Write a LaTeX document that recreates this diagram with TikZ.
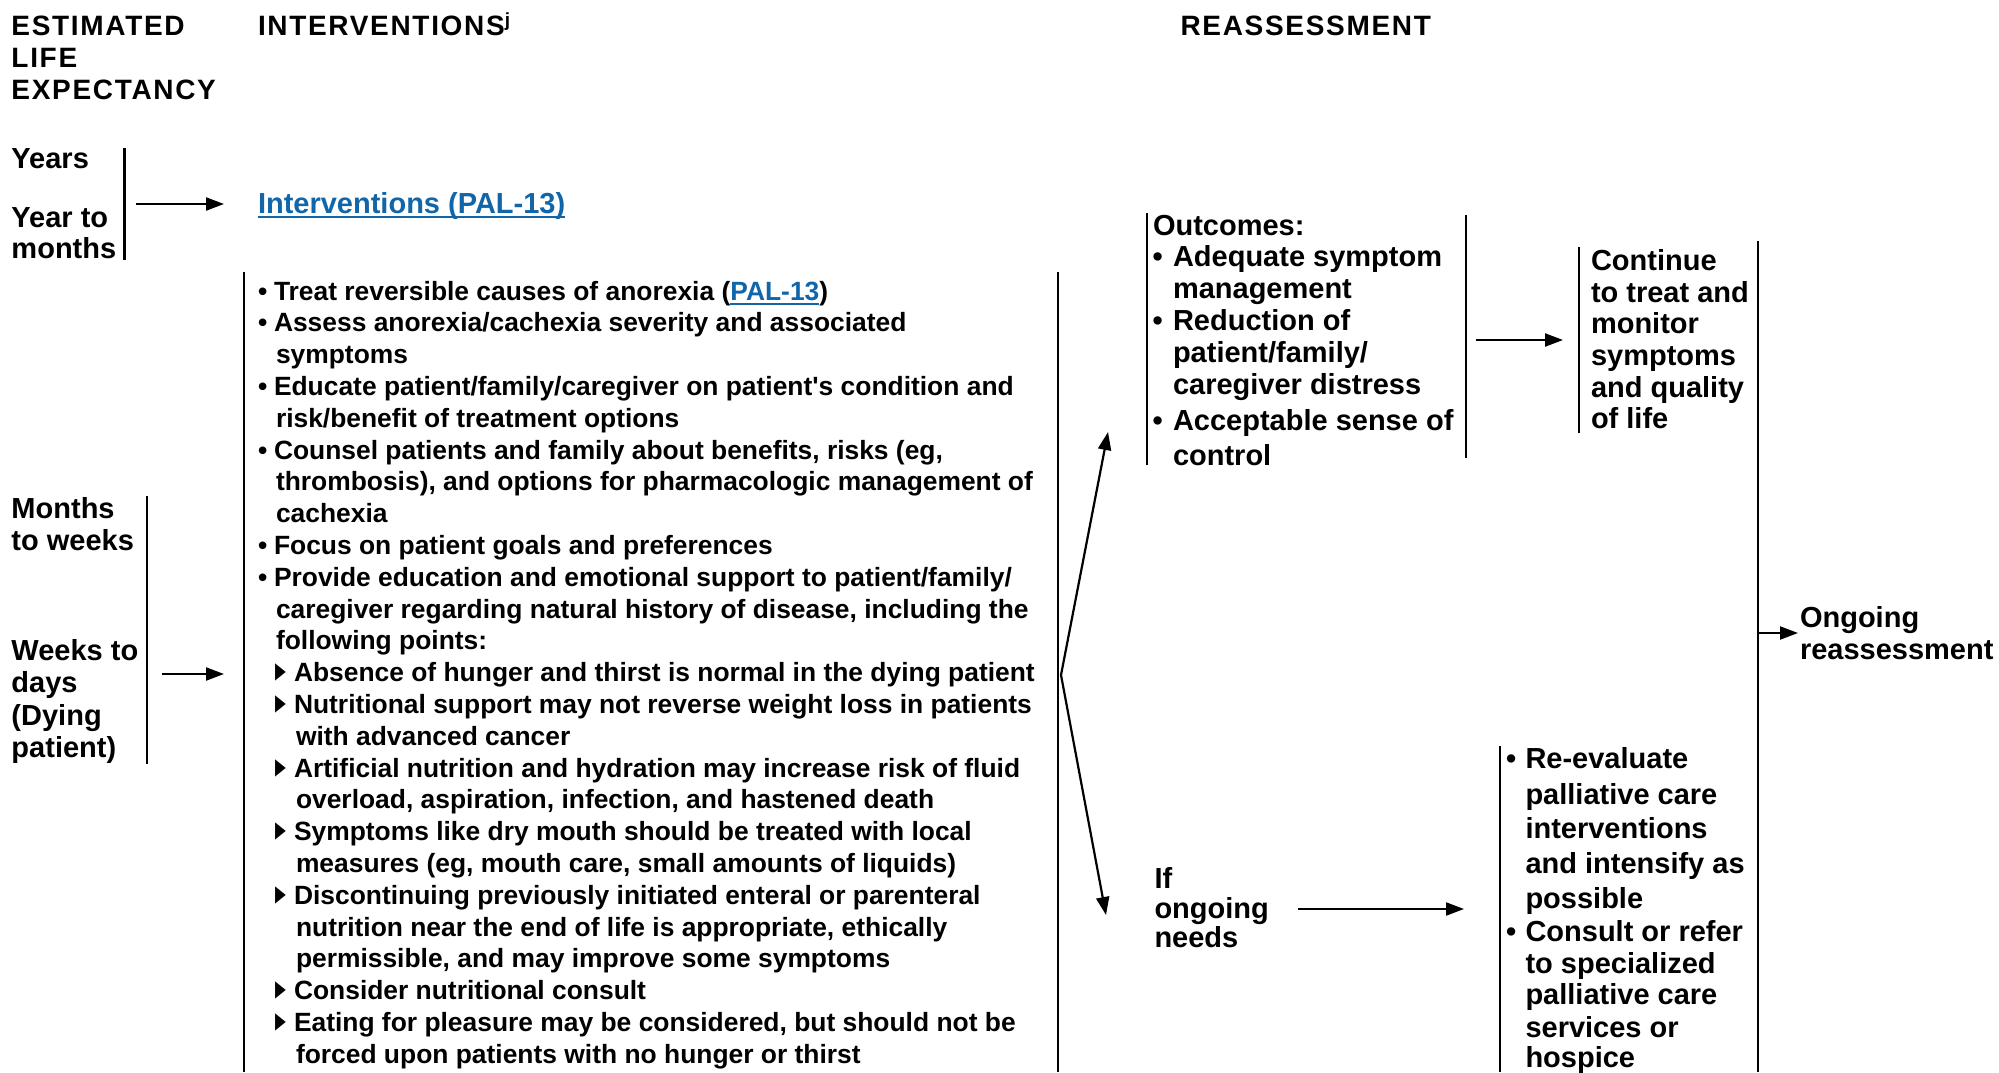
\documentclass[tikz,border=0pt]{standalone}
\usepackage{fontspec}
\setmainfont{Liberation Sans}[BoldFont={Liberation Sans Bold}]
\newfontfamily\symfont{DejaVu Sans}
\usetikzlibrary{arrows.meta}
\definecolor{linkblue}{RGB}{17,102,170}
\newcommand{\ulx}[1]{\setbox0\hbox{#1}\rlap{\rule[-4.5pt]{\wd0}{2pt}}\box0}
\newcommand{\tri}{\scalebox{0.9}[1.45]{▸}}
\newcommand{\supj}{\raisebox{9pt}{\fontsize{19}{19}\selectfont j}}
\tikzset{
  txt/.style={anchor=base west, inner sep=0pt, outer sep=0pt, font=\fontsize{26.4}{31.8}\selectfont\bfseries},
  big/.style={anchor=base west, inner sep=0pt, outer sep=0pt, font=\fontsize{29}{32}\selectfont\bfseries},
  hdr/.style={anchor=base west, inner sep=0pt, outer sep=0pt, font=\fontsize{28}{32}\selectfont\bfseries\addfontfeatures{LetterSpace=6}},
  tmark/.style={anchor=base west, inner sep=0pt, outer sep=0pt, font=\symfont\fontsize{24}{24}\selectfont},
  vline/.style={line width=2.2pt},
  arr/.style={line width=2.2pt, -{Triangle[length=18pt,width=13pt]}},
}
\begin{document}
\begin{tikzpicture}[x=1pt,y=-1pt]
\useasboundingbox (0,0) rectangle (1999,1072);
% headers
\node[hdr] (h1) at (11.5,35) {ESTIMATED};
\node[hdr] (h2) at (11.5,67) {LIFE};
\node[hdr] (h3) at (11.5,99) {EXPECTANCY};
\node[hdr] (h4) at (258,35) {INTERVENTIONS\supj};
\node[hdr] (h5) at (1180.6,35) {REASSESSMENT};
% left labels, top group
\node[big] (y1) at (11.5,168) {Years};
\node[big] (y2) at (11.5,227) {Year to};
\node[big] (y3) at (11.5,258) {months};
\coordinate (ya) at (124.4,148); \coordinate (yb) at (124.4,260);
\draw[vline] (ya) -- (yb);
\node[big, text=linkblue] (link) at (258,213) {\ulx{Interventions (PAL-13)}};
\coordinate (a1s) at (136,204); \coordinate (a1e) at (224,204);
\draw[arr] (a1s) -- (a1e);
% left labels, lower group
\node[big] (m1) at (11.5,518) {Months};
\node[big] (m2) at (11.5,550) {to weeks};
\node[big] (w1) at (11.5,660) {Weeks to};
\node[big] (w2) at (11.5,692) {days};
\node[big] (w3) at (11.5,725) {(Dying};
\node[big] (w4) at (11.5,757) {patient)};
\coordinate (ma) at (147.3,496); \coordinate (mb) at (147.3,764);
\draw[vline] (ma) -- (mb);
\coordinate (a2s) at (162,674); \coordinate (a2e) at (224,674);
\draw[arr] (a2s) -- (a2e);
% big interventions box
\coordinate (bl1) at (244,272); \coordinate (bl2) at (244,1072);
\coordinate (br1) at (1058,272); \coordinate (br2) at (1058,1072);
\draw[vline] (bl1) -- (bl2);
\draw[vline] (br1) -- (br2);
\node[txt] (b0) at (258,300) {•};
\node[txt] (t0) at (274,300) {Treat reversible causes of anorexia (\textcolor{linkblue}{\ulx{PAL-13}})};
\node[txt] (b1) at (258,331.8) {•};
\node[txt] (t1) at (274,331.8) {Assess anorexia/cachexia severity and associated};
\node[txt] (t2) at (276,363.6) {symptoms};
\node[txt] (b3) at (258,395.4) {•};
\node[txt] (t3) at (274,395.4) {Educate patient/family/caregiver on patient\textquotesingle s condition and};
\node[txt] (t4) at (276,427.2) {risk/benefit of treatment options};
\node[txt] (b5) at (258,459) {•};
\node[txt] (t5) at (274,459) {Counsel patients and family about benefits, risks (eg,};
\node[txt] (t6) at (276,490.8) {thrombosis), and options for pharmacologic management of};
\node[txt] (t7) at (276,522.6) {cachexia};
\node[txt] (b8) at (258,554.4) {•};
\node[txt] (t8) at (274,554.4) {Focus on patient goals and preferences};
\node[txt] (b9) at (258,586.2) {•};
\node[txt] (t9) at (274,586.2) {Provide education and emotional support to patient/family/};
\node[txt] (t10) at (276,618) {caregiver regarding natural history of disease, including the};
\node[txt] (t11) at (276,649.8) {following points:};
\node[tmark] (s12) at (275,681.6) {\tri};
\node[txt] (t12) at (294,681.6) {Absence of hunger and thirst is normal in the dying patient};
\node[tmark] (s13) at (275,713.4) {\tri};
\node[txt] (t13) at (294,713.4) {Nutritional support may not reverse weight loss in patients};
\node[txt] (t14) at (296,745.2) {with advanced cancer};
\node[tmark] (s15) at (275,777) {\tri};
\node[txt] (t15) at (294,777) {Artificial nutrition and hydration may increase risk of fluid};
\node[txt] (t16) at (296,808.8) {overload, aspiration, infection, and hastened death};
\node[tmark] (s17) at (275,840.6) {\tri};
\node[txt] (t17) at (294,840.6) {Symptoms like dry mouth should be treated with local};
\node[txt] (t18) at (296,872.4) {measures (eg, mouth care, small amounts of liquids)};
\node[tmark] (s19) at (275,904.2) {\tri};
\node[txt] (t19) at (294,904.2) {Discontinuing previously initiated enteral or parenteral};
\node[txt] (t20) at (296,936) {nutrition near the end of life is appropriate, ethically};
\node[txt] (t21) at (296,967.8) {permissible, and may improve some symptoms};
\node[tmark] (s22) at (275,999.6) {\tri};
\node[txt] (t22) at (294,999.6) {Consider nutritional consult};
\node[tmark] (s23) at (275,1031.4) {\tri};
\node[txt] (t23) at (294,1031.4) {Eating for pleasure may be considered, but should not be};
\node[txt] (t24) at (296,1063.2) {forced upon patients with no hunger or thirst};
% diverging arrows
\coordinate (dv) at (1061,675);
\coordinate (dvu) at (1108,432);
\coordinate (dvd) at (1106,915);
\draw[arr] (dv) -- (dvu);
\draw[arr] (dv) -- (dvd);
% outcomes box
\coordinate (ol1) at (1147,213); \coordinate (ol2) at (1147,465);
\coordinate (or1) at (1466,215); \coordinate (or2) at (1466,458);
\draw[vline] (ol1) -- (ol2);
\draw[vline] (or1) -- (or2);
\node[big] (o0) at (1153,235) {Outcomes:};
\node[big] (ob1) at (1152.5,266) {•};
\node[big] (o1) at (1173,266) {Adequate symptom};
\node[big] (o2) at (1173,298) {management};
\node[big] (ob3) at (1152.5,330) {•};
\node[big] (o3) at (1173,330) {Reduction of};
\node[big] (o4) at (1173,362) {patient/family/};
\node[big] (o5) at (1173,394) {caregiver distress};
\node[big] (ob6) at (1152.5,430) {•};
\node[big] (o6) at (1173,430) {Acceptable sense of};
\node[big] (o7) at (1173,465) {control};
\coordinate (a3s) at (1476,340); \coordinate (a3e) at (1563,340);
\draw[arr] (a3s) -- (a3e);
% continue box
\coordinate (cl1) at (1579,247); \coordinate (cl2) at (1579,433);
\draw[vline] (cl1) -- (cl2);
\node[big] (c1) at (1591,270) {Continue};
\node[big] (c2) at (1591,302) {to treat and};
\node[big] (c3) at (1591,333) {monitor};
\node[big] (c4) at (1591,365) {symptoms};
\node[big] (c5) at (1591,397) {and quality};
\node[big] (c6) at (1591,428) {of life};
% big right line and ongoing reassessment
\coordinate (rr1) at (1758,241); \coordinate (rr2) at (1758,1072);
\draw[vline] (rr1) -- (rr2);
\coordinate (a4s) at (1758,633); \coordinate (a4e) at (1798,633);
\draw[arr] (a4s) -- (a4e);
\node[big] (g1) at (1800,627) {Ongoing};
\node[big] (g2) at (1800,659) {reassessment};
% if ongoing needs
\node[big] (n1) at (1154.5,888) {If};
\node[big] (n2) at (1154.5,918) {ongoing};
\node[big] (n3) at (1154.5,947) {needs};
\coordinate (a5s) at (1298,909); \coordinate (a5e) at (1464,909);
\draw[arr] (a5s) -- (a5e);
% re-evaluate box
\coordinate (el1) at (1500,746); \coordinate (el2) at (1500,1072);
\draw[vline] (el1) -- (el2);
\node[big] (eb1) at (1506,768) {•};
\node[big] (e1) at (1525.5,768) {Re-evaluate};
\node[big] (e2) at (1525.5,804) {palliative care};
\node[big] (e3) at (1525.5,838) {interventions};
\node[big] (e4) at (1525.5,873) {and intensify as};
\node[big] (e5) at (1525.5,908) {possible};
\node[big] (eb6) at (1506,941) {•};
\node[big] (e6) at (1525.5,941) {Consult or refer};
\node[big] (e7) at (1525.5,973) {to specialized};
\node[big] (e8) at (1525.5,1004) {palliative care};
\node[big] (e9) at (1525.5,1037) {services or};
\node[big] (e10) at (1525.5,1067) {hospice};
\end{tikzpicture}
\end{document}
